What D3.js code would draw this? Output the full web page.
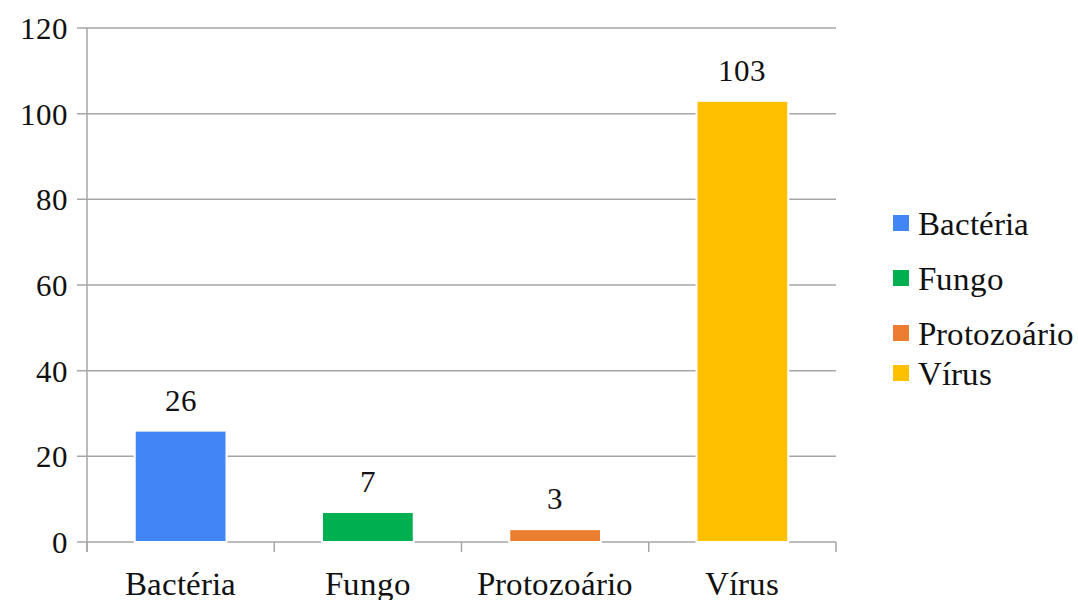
<!DOCTYPE html>
<html>
<head>
<meta charset="utf-8">
<script src="https://cdn.jsdelivr.net/npm/d3@7"></script>
<style>
  @font-face {
    font-family: "ChartSerif";
    src: local("Liberation Serif"), local("LiberationSerif"), local("LiberationSerif-Regular"), local("Tinos"), local("Times New Roman");
  }
  html, body { margin: 0; padding: 0; background: #fff; }
  svg { display: block; }
  svg text { font-family: "ChartSerif", "Tinos", "Times", "Liberation Serif", serif; }
</style>
</head>
<body>
<svg id="chart" width="1078" height="600"></svg>
<script>
// Agents by type
const categories = ["Bactéria", "Fungo", "Protozoário", "Vírus"];
const values = [26, 7, 3, 103];
const colors = ["#4285F4", "#00B050", "#ED7D31", "#FFC000"];
const yTicks = [0, 20, 40, 60, 80, 100, 120];

const svg = d3.select("#chart");
const plotLeft = 87, plotRight = 836, plotTop = 28, plotBottom = 542;

const x = d3.scaleBand().domain(categories).range([plotLeft, plotRight]).paddingInner(0.51).paddingOuter(0.255);
const y = d3.scaleLinear().domain([0, 120]).range([plotBottom, plotTop]);
const gridColor = "#a6a6a6";
const textColor = "#111";

// horizontal gridlines with short ticks to the left of the axis
svg.append("g").selectAll("line").data(yTicks).join("line")
  .attr("x1", plotLeft - 10).attr("x2", plotRight)
  .attr("y1", d => y(d)).attr("y2", d => y(d))
  .attr("stroke", gridColor).attr("stroke-width", 1.5);

// y-axis line
svg.append("line")
  .attr("x1", plotLeft).attr("x2", plotLeft).attr("y1", plotTop).attr("y2", plotBottom + 10)
  .attr("stroke", gridColor).attr("stroke-width", 1.5);

// x-axis tick marks at band boundaries
const bounds = [plotLeft].concat(categories.map(c => x(c) + x.bandwidth() + x.step() * x.paddingInner() / 2));
bounds[bounds.length - 1] = plotRight;
svg.append("g").selectAll("line").data(bounds).join("line")
  .attr("x1", d => d).attr("x2", d => d)
  .attr("y1", plotBottom).attr("y2", plotBottom + 10)
  .attr("stroke", gridColor).attr("stroke-width", 1.5);

// y tick labels
svg.selectAll("text.ytick").data(yTicks).join("text").attr("class", "ytick")
  .attr("x", plotLeft - 19).attr("y", d => y(d) + 11)
  .attr("text-anchor", "end")
  .attr("font-size", 31).attr("fill", textColor)
  .text(d => d);

// bars
svg.append("g").selectAll("rect").data(values).join("rect")
  .attr("x", (d, i) => x(categories[i]))
  .attr("width", x.bandwidth())
  .attr("y", d => y(d))
  .attr("height", d => y(0) - y(d))
  .attr("fill", (d, i) => colors[i])
  .attr("stroke", "#fff").attr("stroke-width", 2);

// value labels
svg.selectAll("text.value").data(values).join("text").attr("class", "value")
  .attr("x", (d, i) => x(categories[i]) + x.bandwidth() / 2)
  .attr("y", d => y(d) - 20)
  .attr("text-anchor", "middle")
  .attr("font-size", 31).attr("fill", textColor)
  .text(d => d);

// category labels
svg.selectAll("text.cat").data(categories).join("text").attr("class", "cat")
  .attr("x", d => x(d) + x.bandwidth() / 2)
  .attr("y", 595)
  .attr("text-anchor", "middle")
  .attr("font-size", 33).attr("fill", textColor)
  .text(d => d);

// legend
const legendY = [215, 270, 325, 365];
svg.selectAll("rect.key").data(categories).join("rect").attr("class", "key")
  .attr("x", 893).attr("y", (d, i) => legendY[i])
  .attr("width", 16).attr("height", 16)
  .attr("fill", (d, i) => colors[i]);
svg.selectAll("text.key").data(categories).join("text").attr("class", "key")
  .attr("x", 918).attr("y", (d, i) => legendY[i] + 20)
  .attr("font-size", 33).attr("fill", textColor)
  .text(d => d);
</script>
</body>
</html>
